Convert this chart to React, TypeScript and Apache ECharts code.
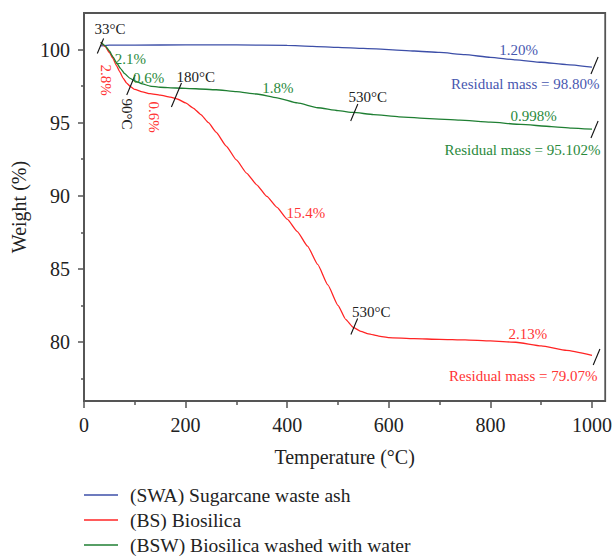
import React, { useEffect, useRef } from "react";
import * as echarts from "echarts";

const FONT = "Liberation Serif";

// Tick positions
const xMajorTicks = [0, 200, 400, 600, 800, 1000];
const xMinorTicks = [100, 300, 500, 700, 900];
const yMajorTicks = [80, 85, 90, 95, 100];
const yMinorTicks = [77.5, 82.5, 87.5, 92.5, 97.5];

// (SWA) Sugarcane waste ash
const swaT = [33, 50, 100, 200, 300, 400, 450, 500, 550, 600, 650, 700, 750, 800, 850, 900, 950, 1000];
const swaW = [100.25, 100.3, 100.3, 100.32, 100.32, 100.28, 100.22, 100.15, 100.08, 100.0, 99.9, 99.8, 99.65, 99.47, 99.3, 99.13, 98.97, 98.8];

// (BS) Biosilica
const bsT = [33, 42, 50, 57, 64, 70, 77, 84, 92, 100, 115, 130, 150, 170, 185, 200, 215, 230, 245, 260, 280, 300, 320, 340, 360, 380, 400, 420, 440, 460, 480, 500, 515, 530, 545, 560, 580, 600, 650, 700, 750, 800, 850, 900, 950, 1000];
const bsW = [100.5, 100.2, 99.8, 99.4, 98.9, 98.5, 98.05, 97.7, 97.45, 97.27, 97.1, 96.98, 96.88, 96.75, 96.6, 96.35, 96.0, 95.55, 95.0, 94.35, 93.4, 92.45, 91.55, 90.75, 89.95, 89.2, 88.4, 87.55, 86.55, 85.3, 83.9, 82.5, 81.55, 81.0, 80.72, 80.55, 80.4, 80.3, 80.22, 80.18, 80.14, 80.07, 79.98, 79.73, 79.42, 79.08];

// (BSW) Biosilica washed with water
const bswT = [33, 42, 50, 57, 64, 72, 80, 90, 100, 115, 130, 150, 180, 220, 260, 300, 340, 380, 420, 460, 500, 530, 570, 620, 680, 740, 800, 860, 920, 960, 1000];
const bswW = [100.5, 100.25, 99.9, 99.5, 99.1, 98.7, 98.35, 98.05, 97.85, 97.65, 97.5, 97.42, 97.37, 97.32, 97.25, 97.12, 96.96, 96.7, 96.35, 96.02, 95.82, 95.7, 95.55, 95.4, 95.28, 95.17, 95.03, 94.88, 94.73, 94.63, 94.55];

const seriesNames = ["(SWA) Sugarcane waste ash", "(BS) Biosilica", "(BSW) Biosilica washed with water"];
const seriesColors = ["#3d4fa8", "#ff2424", "#1f7f33"];
const textColors = ["#4858b0", "#ff3535", "#2a8a3c", "#222222"];

// Slash marks (temperature, weight)
const slashT = [32.4, 92.4, 182, 532, 532, 1005, 1005, 1009];
const slashW = [100.24, 97.57, 96.89, 95.69, 81.05, 98.91, 94.53, 78.97];
const slashHalf = [7.5, 10, 12, 8.5, 8, 8.5, 8.5, 8];

// Annotation texts
const annoText = ["33°C", "2.1%", "2.8%", "0.6%", "90°C", "0.6%", "180°C", "1.8%", "530°C", "1.20%", "Residual mass = 98.80%", "0.998%", "Residual mass = 95.102%", "15.4%", "530°C", "2.13%", "Residual mass = 79.07%"];
const annoT = [51, 91.4, 44, 127, 84.6, 137, 220, 381.5, 558.5, 855.5, 1014.7, 885, 1016.7, 436.6, 565.4, 874, 1010.8];
const annoW = [101.4, 99.35, 97.91, 98.05, 95.59, 95.38, 98.12, 97.37, 96.75, 99.97, 97.64, 95.45, 93.13, 88.82, 82.04, 80.54, 77.67];
const annoColorIdx = [3, 2, 1, 2, 3, 1, 3, 2, 3, 0, 0, 2, 2, 1, 3, 1, 1];
const annoRotated = [0, 0, 1, 0, 1, 1, 0, 0, 0, 0, 0, 0, 0, 0, 0, 0, 0];
const annoRightAligned = [0, 0, 0, 0, 0, 0, 0, 0, 0, 0, 1, 0, 1, 0, 0, 0, 1];

const X_MIN = 0;
const X_MAX = 1026;
const Y_MIN = 75.96;
const Y_MAX = 102.5;

function pairs(t: number[], w: number[]) {
  return t.map((v, i) => [v, w[i]]);
}

export default function App() {
  const ref = useRef<HTMLDivElement>(null);
  useEffect(() => {
    if (!ref.current) return;
    const chart = echarts.init(ref.current, undefined, { renderer: "svg" });
    const axisColor = "#555555";
    const lineSeries = [pairs(swaT, swaW), pairs(bsT, bsW), pairs(bswT, bswW)].map((d, i) => ({
      name: seriesNames[i],
      type: "line",
      data: d,
      symbol: "none",
      smooth: 0.15,
      smoothMonotone: "x",
      color: seriesColors[i],
      lineStyle: { color: seriesColors[i], width: 1.3 },
      z: 3,
    }));
    chart.setOption({
      animation: false,
      textStyle: { fontFamily: FONT },
      grid: { left: 84, right: 9, top: 13, bottom: 156, show: true, borderColor: axisColor, borderWidth: 1.8 },
      xAxis: [
        {
          type: "value",
          min: X_MIN,
          max: X_MAX,
          position: "bottom",
          name: "Temperature (°C)",
          nameLocation: "middle",
          nameGap: 46,
          nameTextStyle: { fontFamily: FONT, fontSize: 20, color: "#222" },
          splitLine: { show: false },
          axisLine: { lineStyle: { color: axisColor, width: 1.8 } },
          axisTick: { customValues: xMajorTicks, length: 7, lineStyle: { color: axisColor, width: 1.5 } },
          axisLabel: {
            customValues: xMajorTicks,
            fontFamily: FONT,
            fontSize: 20,
            color: "#222",
            margin: 14,
            formatter: (v: number) => String(v),
          },
        },
        {
          type: "value",
          min: X_MIN,
          max: X_MAX,
          position: "bottom",
          splitLine: { show: false },
          axisLine: { show: false },
          axisLabel: { show: false },
          axisTick: { show: true, customValues: xMinorTicks, length: 4, lineStyle: { color: axisColor, width: 1.5 } },
        },
      ],
      yAxis: [
        {
          type: "value",
          min: Y_MIN,
          max: Y_MAX,
          position: "left",
          name: "Weight (%)",
          nameLocation: "middle",
          nameGap: 52,
          nameTextStyle: { fontFamily: FONT, fontSize: 20, color: "#222" },
          splitLine: { show: false },
          axisLine: { show: true, lineStyle: { color: axisColor, width: 1.8 } },
          axisTick: { show: true, customValues: yMajorTicks, length: 6, lineStyle: { color: axisColor, width: 1.5 } },
          axisLabel: { customValues: yMajorTicks, fontFamily: FONT, fontSize: 20, color: "#222", margin: 14 },
        },
        {
          type: "value",
          min: Y_MIN,
          max: Y_MAX,
          position: "left",
          splitLine: { show: false },
          axisLine: { show: false },
          axisLabel: { show: false },
          axisTick: { show: true, customValues: yMinorTicks, length: 3, lineStyle: { color: axisColor, width: 1.5 } },
        },
      ],
      legend: {
        data: seriesNames,
        orient: "vertical",
        left: 84,
        top: 485,
        width: 500,
        height: 100,
        icon: "rect",
        itemWidth: 34,
        itemHeight: 1.6,
        itemGap: 5,
        padding: 0,
        textStyle: { fontFamily: FONT, fontSize: 19.5, lineHeight: 20, color: "#222", padding: [0, 0, 0, 7] },
      },
      series: [
        ...lineSeries,
        {
          type: "custom",
          name: "slashes",
          data: pairs(slashT, slashW),
          clip: false,
          silent: true,
          z: 5,
          renderItem: (params: any, api: any) => {
            const p = api.coord([api.value(0), api.value(1)]);
            const h = slashHalf[params.dataIndex];
            const dx = h * 0.42;
            return {
              type: "line",
              shape: { x1: p[0] - dx, y1: p[1] + h, x2: p[0] + dx, y2: p[1] - h },
              style: { stroke: "#111", lineWidth: 1.1 },
            };
          },
        },
        {
          type: "custom",
          name: "annotations",
          data: pairs(annoT, annoW),
          clip: false,
          silent: true,
          z: 6,
          renderItem: (params: any, api: any) => {
            const i = params.dataIndex;
            const p = api.coord([api.value(0), api.value(1)]);
            return {
              type: "text",
              x: p[0],
              y: p[1],
              rotation: annoRotated[i] ? -Math.PI / 2 : 0,
              style: {
                text: annoText[i],
                fill: textColors[annoColorIdx[i]],
                fontFamily: FONT,
                fontSize: 15,
                align: annoRightAligned[i] ? "right" : "center",
                verticalAlign: "middle",
              },
            };
          },
        },
      ],
    });
    return () => chart.dispose();
  }, []);
  return <div ref={ref} style={{ position: "absolute", left: 0, top: 0, width: 615, height: 557 }} />;
}
